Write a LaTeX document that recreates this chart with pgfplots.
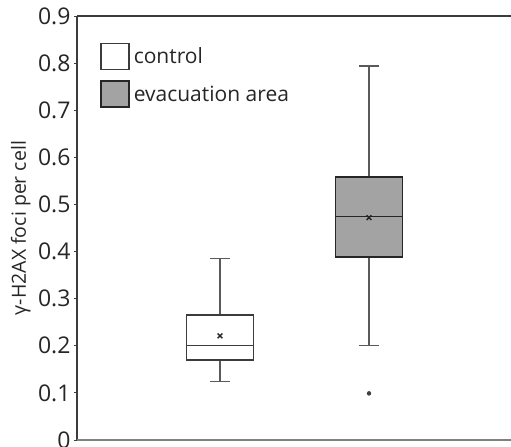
\documentclass[border=0pt]{standalone}
\usepackage{pgfplots}
\pgfplotsset{compat=1.18}
\usepgfplotslibrary{statistics}
\usepackage{fontspec}
\setmainfont{Open Sans}
\definecolor{spine}{HTML}{3C3C3C}
\definecolor{bottomspine}{HTML}{808080}
\definecolor{boxgray}{HTML}{A3A3A3}
\definecolor{whisk}{HTML}{5A5A5A}
\begin{document}
\begin{tikzpicture}
\useasboundingbox (-77bp,-7bp) rectangle (434bp,440bp);
\begin{axis}[
  at={(0,0)}, anchor=south west,
  scale only axis, width=434bp, height=424bp,
  xmin=0.04, xmax=2.953, ymin=0, ymax=0.9,
  xtick=\empty,
  ytick={0,0.1,0.2,0.3,0.4,0.5,0.6,0.7,0.8,0.9},
  yticklabel style={/pgf/number format/fixed,/pgf/number format/precision=1},
  /pgf/number format/assume math mode=true,
  tick label style={font=\fontsize{23bp}{26bp}\selectfont, text=black!85},
  major tick length=3bp, tick align=outside, tick style={spine, line width=0.8bp},
  axis line style={draw=none},
  ylabel={γ-H2AX foci per cell},
  ylabel style={font=\fontsize{19.5bp}{22bp}\selectfont, text=black!85, at={(rel axis cs:0,0.5)}, anchor=south, yshift=43bp},
  legend image code/.code={\draw[#1] (0bp,-13bp) rectangle (28bp,13bp);},
  legend style={draw=none, fill=none, at={(0.053,0.937)}, anchor=north west,
    inner sep=0pt, font=\fontsize{21bp}{24bp}\selectfont, text=black!85,
    row sep=10bp, cells={anchor=west}, nodes={inner xsep=4bp}},
  boxplot/draw direction=y,
  clip=false,
]
\draw[spine, line width=2bp] (rel axis cs:0,0) -- (rel axis cs:0,1);
\draw[spine, line width=2bp] (rel axis cs:0,1) -- (rel axis cs:1,1);
\draw[bottomspine, line width=2bp] (rel axis cs:0,0) -- (rel axis cs:1,0);

\addlegendimage{draw=spine, fill=white, line width=1.4bp}
\addlegendentry{control}
\addlegendimage{draw=black!85, fill=boxgray, line width=1.6bp}
\addlegendentry{evacuation area}

\addplot[forget plot, draw=spine, line width=1.5bp,
  boxplot/draw direction=y,
  boxplot prepared={draw position=1, lower whisker=0.125, lower quartile=0.17,
    median=0.2, upper quartile=0.265, upper whisker=0.386,
    box extend=0.45, whisker extend=0.134,
    every box/.style={draw=spine, fill=white, line width=1.5bp},
    every whisker/.style={draw=whisk, line width=1.2bp},
    every median/.style={draw=spine, line width=1.4bp}}]
  coordinates {};

\addplot[forget plot, draw=black!85, line width=1.8bp,
  boxplot/draw direction=y,
  boxplot prepared={draw position=2, lower whisker=0.2, lower quartile=0.388,
    median=0.474, upper quartile=0.559, upper whisker=0.794,
    box extend=0.45, whisker extend=0.134,
    every box/.style={draw=black!85, fill=boxgray, line width=1.8bp},
    every whisker/.style={draw=whisk, line width=1.2bp},
    every median/.style={draw=black!85, line width=1.6bp}}]
  coordinates {};

% means
\addplot[forget plot, only marks, mark=x, mark size=3.3bp, mark options={draw=black!85, line width=1.4bp}]
  coordinates {(1,0.221) (2,0.472)};
% outlier
\addplot[forget plot, only marks, mark=*, mark size=2bp, mark options={fill=black!75, draw=black!75}]
  coordinates {(2,0.099)};
\end{axis}
\end{tikzpicture}
\end{document}
